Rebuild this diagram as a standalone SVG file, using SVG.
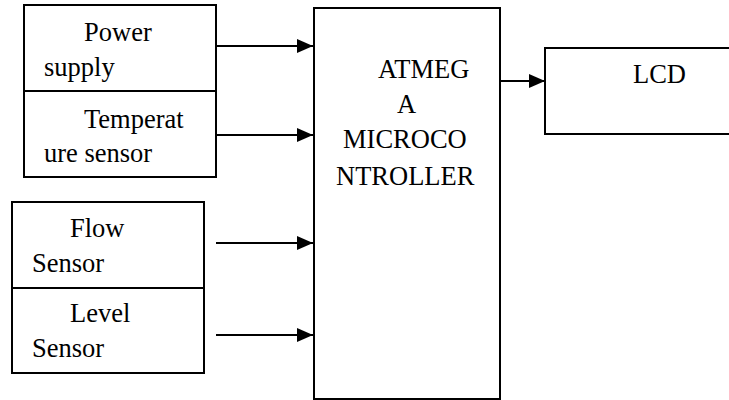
<svg xmlns="http://www.w3.org/2000/svg" width="729" height="400" viewBox="0 0 729 400">
<style>
.box{fill:#fff;stroke:#000;stroke-width:2}
text{font-family:"Liberation Serif","Times New Roman",Times,"DejaVu Serif",serif;font-size:26.5px;fill:#000}
.c{stroke:#000;stroke-width:2.2;fill:none}
</style>
<defs>
<marker id="ah" markerUnits="userSpaceOnUse" markerWidth="17" markerHeight="15" refX="16" refY="7.5" orient="auto" overflow="visible">
<path d="M0,0.5 L16,7.5 L0,14.5 Z" fill="#000"/>
</marker>
</defs>
<rect width="729" height="400" fill="#fff"/>
<g id="power" font-family="Liberation Serif, serif">
<rect class="box" x="24" y="5" width="192" height="86"/>
<text x="84" y="41">Power</text>
<text x="44" y="76">supply</text>
</g>
<g id="temperature" font-family="Liberation Serif, serif">
<rect class="box" x="24" y="91" width="192" height="86"/>
<text x="84" y="128">Temperat</text>
<text x="44" y="162">ure sensor</text>
</g>
<g id="flow" font-family="Liberation Serif, serif">
<rect class="box" x="12" y="202" width="192" height="86"/>
<text x="70" y="237">Flow</text>
<text x="32" y="272">Sensor</text>
</g>
<g id="level" font-family="Liberation Serif, serif">
<rect class="box" x="12" y="288" width="192" height="85"/>
<text x="70" y="322">Level</text>
<text x="32" y="357">Sensor</text>
</g>
<g id="mcu" font-family="Liberation Serif, serif">
<rect class="box" x="314" y="8" width="186" height="391"/>
<text x="378" y="78">ATMEG</text>
<text x="397" y="113">A</text>
<text x="343" y="148">MICROCO</text>
<text x="336" y="185">NTROLLER</text>
</g>
<g id="lcd" font-family="Liberation Serif, serif">
<rect class="box" x="545" y="48" width="200" height="86"/>
<text x="633" y="83">LCD</text>
</g>
<g id="connectors">
<line class="c" x1="216" y1="46" x2="313" y2="46" marker-end="url(#ah)"/>
<line class="c" x1="216" y1="135" x2="313" y2="135" marker-end="url(#ah)"/>
<line class="c" x1="216" y1="243" x2="313" y2="243" marker-end="url(#ah)"/>
<line class="c" x1="216" y1="335" x2="313" y2="335" marker-end="url(#ah)"/>
<line class="c" x1="500" y1="81" x2="545" y2="81" marker-end="url(#ah)"/>
</g>
</svg>
